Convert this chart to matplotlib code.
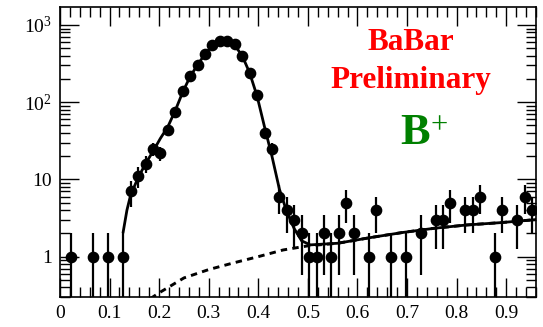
import numpy as np
import matplotlib
matplotlib.use("Agg")
import matplotlib.pyplot as plt
from matplotlib.ticker import FixedLocator, FixedFormatter, MultipleLocator, NullFormatter

plt.rcParams['font.family'] = ['Liberation Serif', 'DejaVu Serif']
plt.rcParams['mathtext.fontset'] = 'custom'
plt.rcParams['mathtext.rm'] = 'Liberation Serif'

# histogram: 64 bins from 0 to 0.96
bin_edges = np.linspace(0.0, 0.96, 65)
counts = [0, 1, 0, 0, 1, 0, 1, 0, 1, 7,
          11, 16, 25, 22, 44, 75, 139, 218, 302, 415,
          548, 626, 626, 560, 400, 240, 124, 40, 25, 6,
          4, 3, 2, 1, 1, 2, 1, 2, 5, 2,
          0, 1, 4, 0, 1, 0, 1, 0, 2, 0,
          3, 3, 5, 0, 4, 4, 6, 0, 1, 4,
          0, 3, 6, 4]

# total fit (solid)
fit_x = [0.1275, 0.135, 0.1425, 0.1575, 0.1725, 0.1875, 0.2025, 0.2175, 0.2325,
         0.2475, 0.2625, 0.2775, 0.2925, 0.3075, 0.3225, 0.3375, 0.3525, 0.3675,
         0.3825, 0.3975, 0.4125, 0.4275, 0.4425, 0.4575, 0.4725, 0.4875, 0.505,
         0.56, 0.625, 0.69, 0.755, 0.82, 0.89, 0.96]
fit_y = [2.1, 4.0, 6.3, 10.5, 16, 23, 34, 48, 78,
         135, 215, 305, 420, 540, 615, 615, 545, 400,
         240, 120, 48, 20, 7.5, 3.8, 2.3, 1.6, 1.42,
         1.49, 1.76, 2.05, 2.33, 2.57, 2.76, 3.02]

# background component (dashed)
bg_x = [0.1275, 0.16, 0.2, 0.25, 0.3, 0.35, 0.4, 0.45, 0.5, 0.56, 0.625, 0.69,
        0.755, 0.82, 0.89, 0.96]
bg_y = [0.15, 0.23, 0.34, 0.53, 0.68, 0.83, 1.0, 1.22, 1.38, 1.49, 1.76, 2.05,
        2.33, 2.57, 2.76, 3.02]

centers = 0.5 * (bin_edges[:-1] + bin_edges[1:])
n = np.array(counts, dtype=float)
mask = n > 0
xc = centers[mask]
yc = n[mask]
err = np.sqrt(yc)
lo = np.maximum(yc - err, 1e-3)
hi = yc + err

fig = plt.figure(figsize=(5.43, 3.27), dpi=100)
ax = fig.add_axes([0.1105, 0.0917, 0.8765, 0.8869])

ax.vlines(xc, lo, hi, color='black', lw=1.6, zorder=3)
ax.plot(xc, yc, 'o', color='black', ms=7.4, zorder=4)
ax.plot(fit_x, fit_y, '-', color='black', lw=2.0, zorder=5)
ax.plot(bg_x, bg_y, color='black', lw=2.1, linestyle=(0, (2.2, 1.8)), zorder=2)

ax.set_yscale('log')
ax.set_xlim(0, 0.96)
ax.set_ylim(0.30, 1710)

xt = [0, 0.1, 0.2, 0.3, 0.4, 0.5, 0.6, 0.7, 0.8, 0.9]
ax.xaxis.set_major_locator(FixedLocator(xt))
ax.xaxis.set_minor_locator(MultipleLocator(0.02))
ax.xaxis.set_major_formatter(FixedFormatter(['0', '0.1', '0.2', '0.3', '0.4',
                                             '0.5', '0.6', '0.7', '0.8', '0.9']))

ax.yaxis.set_major_locator(FixedLocator([1, 10, 100, 1000]))
ax.yaxis.set_major_formatter(FixedFormatter(['1', '10', r'$\mathregular{10^{2}}$',
                                             r'$\mathregular{10^{3}}$']))
ax.yaxis.set_minor_formatter(NullFormatter())

ax.tick_params(which='both', direction='in', top=True, right=True,
               labelsize=14, width=1.0, colors='black')
ax.tick_params(which='major', length=14, pad=6)
ax.tick_params(which='minor', length=7)
for s in ax.spines.values():
    s.set_linewidth(1.2)

ax.text(0.738, 0.876, 'BaBar', transform=ax.transAxes, ha='center', va='center',
        color='red', fontsize=22.5, fontweight='bold')
ax.text(0.738, 0.748, 'Preliminary', transform=ax.transAxes, ha='center', va='center',
        color='red', fontsize=22.5, fontweight='bold')
ax.text(0.745, 0.566, 'B', transform=ax.transAxes, ha='center', va='center',
        color='#008000', fontsize=32, fontweight='bold')
ax.text(0.797, 0.59, '+', transform=ax.transAxes, ha='center', va='center',
        color='#008000', fontsize=22)

fig.savefig('out.png', dpi=100)
